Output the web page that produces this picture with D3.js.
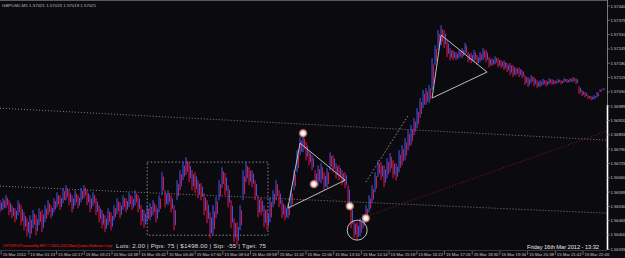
<!DOCTYPE html>
<html>
<head>
<meta charset="utf-8">
<script src="https://cdn.jsdelivr.net/npm/d3@7"></script>
<style>
  html, body { margin: 0; padding: 0; background: #0b0b0f; }
  svg { display: block; font-family: "Liberation Sans", Arial, sans-serif; }
</style>
</head>
<body>
<div id="chart"></div>
<script>
// GBPUSD M1, 15 Mar 2012 -- one high/low pair per ~7 minutes of bars
const symbolInfo = 'GBPUSD,M1  1.57021 1.57023 1.57019 1.57021'

const highs = [
  1.56558, 1.56567, 1.56581, 1.56558, 1.56535, 1.56522, 1.56558, 1.56535, 1.56503, 1.56476,
  1.56490, 1.56513, 1.56490, 1.56522, 1.56513, 1.56535, 1.56558, 1.56535, 1.56567, 1.56594,
  1.56581, 1.56613, 1.56626, 1.56603, 1.56581, 1.56603, 1.56581, 1.56613, 1.56626, 1.56603,
  1.56581, 1.56594, 1.56567, 1.56535, 1.56513, 1.56490, 1.56522, 1.56503, 1.56535, 1.56567,
  1.56549, 1.56581, 1.56567, 1.56594, 1.56576, 1.56603, 1.56581, 1.56535, 1.56513, 1.56535,
  1.56544, 1.56558, 1.56535, 1.56581, 1.56685, 1.56603, 1.56603, 1.56581, 1.56535, 1.56649,
  1.56694, 1.56731, 1.56753, 1.56731, 1.56694, 1.56685, 1.56649, 1.56635, 1.56590, 1.56558,
  1.56503, 1.56535, 1.56572, 1.56649, 1.56708, 1.56681, 1.56626, 1.56558, 1.56476, 1.56458,
  1.56535, 1.56694, 1.56731, 1.56708, 1.56694, 1.56649, 1.56581, 1.56572, 1.56535, 1.56513,
  1.56572, 1.56603, 1.56649, 1.56603, 1.56558, 1.56535, 1.56544, 1.56603, 1.56694, 1.56785,
  1.56844, 1.56853, 1.56822, 1.56785, 1.56762, 1.56694, 1.56717, 1.56726, 1.56685, 1.56703,
  1.56776, 1.56762, 1.56726, 1.56717, 1.56694, 1.56685, 1.56626, 1.56535, 1.56467, 1.56458,
  1.56476, 1.56494, 1.56535, 1.56581, 1.56626, 1.56685, 1.56740, 1.56731, 1.56717, 1.56749,
  1.56772, 1.56740, 1.56726, 1.56785, 1.56808, 1.56840, 1.56876, 1.56899, 1.56931, 1.56976,
  1.57022, 1.57058, 1.57067, 1.57081, 1.57203, 1.57262, 1.57331, 1.57353, 1.57331, 1.57285,
  1.57249, 1.57240, 1.57231, 1.57240, 1.57249, 1.57272, 1.57231, 1.57226, 1.57240, 1.57217,
  1.57231, 1.57249, 1.57240, 1.57208, 1.57203, 1.57212, 1.57203, 1.57194, 1.57194, 1.57181,
  1.57181, 1.57172, 1.57162, 1.57162, 1.57149, 1.57126, 1.57117, 1.57126, 1.57117, 1.57103,
  1.57103, 1.57108, 1.57103, 1.57112, 1.57108, 1.57103, 1.57108, 1.57103, 1.57112, 1.57108,
  1.57112, 1.57117, 1.57112, 1.57076, 1.57058, 1.57049, 1.57035, 1.57031, 1.57035, 1.57049,
  1.57062, 1.57067
]

const lows = [
  1.56503, 1.56513, 1.56522, 1.56490, 1.56476, 1.56458, 1.56490, 1.56444, 1.56422, 1.56394,
  1.56385, 1.56431, 1.56399, 1.56444, 1.56413, 1.56458, 1.56490, 1.56476, 1.56503, 1.56526,
  1.56513, 1.56544, 1.56558, 1.56535, 1.56503, 1.56535, 1.56522, 1.56549, 1.56567, 1.56535,
  1.56503, 1.56531, 1.56490, 1.56458, 1.56431, 1.56413, 1.56444, 1.56422, 1.56467, 1.56494,
  1.56476, 1.56513, 1.56503, 1.56526, 1.56513, 1.56535, 1.56503, 1.56444, 1.56431, 1.56458,
  1.56467, 1.56490, 1.56458, 1.56503, 1.56581, 1.56526, 1.56535, 1.56503, 1.56422, 1.56558,
  1.56603, 1.56649, 1.56672, 1.56640, 1.56603, 1.56590, 1.56567, 1.56558, 1.56490, 1.56453,
  1.56385, 1.56399, 1.56476, 1.56558, 1.56613, 1.56581, 1.56526, 1.56431, 1.56367, 1.56353,
  1.56422, 1.56558, 1.56640, 1.56626, 1.56617, 1.56558, 1.56481, 1.56490, 1.56435, 1.56422,
  1.56458, 1.56526, 1.56558, 1.56526, 1.56476, 1.56467, 1.56476, 1.56526, 1.56603, 1.56685,
  1.56762, 1.56776, 1.56740, 1.56717, 1.56694, 1.56613, 1.56626, 1.56635, 1.56603, 1.56613,
  1.56694, 1.56685, 1.56658, 1.56649, 1.56626, 1.56613, 1.56526, 1.56431, 1.56385, 1.56376,
  1.56394, 1.56431, 1.56458, 1.56503, 1.56544, 1.56594, 1.56663, 1.56649, 1.56617, 1.56658,
  1.56685, 1.56658, 1.56649, 1.56685, 1.56717, 1.56740, 1.56785, 1.56808, 1.56853, 1.56885,
  1.56931, 1.56976, 1.56990, 1.56999, 1.57058, 1.57172, 1.57240, 1.57262, 1.57249, 1.57208,
  1.57194, 1.57194, 1.57194, 1.57203, 1.57203, 1.57217, 1.57185, 1.57181, 1.57185, 1.57172,
  1.57185, 1.57194, 1.57185, 1.57162, 1.57167, 1.57176, 1.57162, 1.57158, 1.57149, 1.57140,
  1.57126, 1.57117, 1.57126, 1.57117, 1.57112, 1.57081, 1.57072, 1.57090, 1.57076, 1.57067,
  1.57072, 1.57081, 1.57076, 1.57085, 1.57081, 1.57085, 1.57090, 1.57085, 1.57094, 1.57090,
  1.57094, 1.57094, 1.57085, 1.57040, 1.57031, 1.57026, 1.57017, 1.57012, 1.57017, 1.57026,
  1.57049, 1.57058
]

const firstMinute = 4
const minutesPerBar = 6.93

const priceTicks = [
  1.56335, 1.56400, 1.56465, 1.56530, 1.56595, 1.56660, 1.56725, 1.56790, 1.56855,
  1.56920, 1.56985, 1.57050, 1.57115, 1.57180, 1.57245, 1.57310, 1.57375, 1.57440
]

const timeLabels = [
  '15 Mar 2012', '15 Mar 01:13', '15 Mar 02:17', '15 Mar 03:21', '15 Mar 04:38', '15 Mar 05:42',
  '15 Mar 06:46', '15 Mar 07:50', '15 Mar 08:54', '15 Mar 09:58', '15 Mar 11:02', '15 Mar 12:06',
  '15 Mar 13:10', '15 Mar 14:14', '15 Mar 15:18', '15 Mar 16:22', '15 Mar 17:26', '15 Mar 18:30',
  '15 Mar 19:34', '15 Mar 20:38', '15 Mar 21:42', '15 Mar 22:46'
]
const timeLabelMinutes = [
  9, 73, 137, 201, 265, 329, 393, 457, 521, 585, 649, 713,
  777, 841, 905, 969, 1033, 1097, 1161, 1225, 1289, 1353
]

// drawn objects: [minute, price]
const triangleA = [[669, 1.56522], [697, 1.56817], [801, 1.56649]]
const triangleB = [[1002, 1.57022], [1023, 1.57308], [1129, 1.57140]]
const channelUpper = [[4, 1.56976], [1406, 1.56831]]
const channelLower = [[4, 1.56622], [1406, 1.56499]]
const trendGrey = [[849, 1.56640], [946, 1.56940]]
const trendRed = [[859, 1.56490], [1406, 1.56872]]
const trendRedFaint = [[708, 1.56603], [812, 1.56540]]
const rangeBox = [[344, 1.56731], [623, 1.56399]]
const pivots = [[704, 1.56862], [729, 1.56631], [812, 1.56531], [849, 1.56476]]
const ringPoint = [829, 1.56422]

const tradeInfo = 'Lots: 2.00 | Pips: 75 | $1498.00 | Stp: -55 | Tget: 75'
const copyright = 'DFT-MT4 Powered by EFL \u00a9 2001-2011 MetaQuotes Software Corp.'
const clockText = 'Friday 16th Mar 2012 - 13:32'

const width = 625
const height = 258
const plotRight = 607
const plotBottom = 250

const x = d3.scaleLinear().domain([4, 1406]).range([0, plotRight])
const y = d3.scaleLinear().domain([1.56335, 1.5744]).range([249.3, 6])

const svg = d3
  .select('#chart')
  .append('svg')
  .attr('width', width)
  .attr('height', height)

svg.append('rect').attr('width', width).attr('height', height).attr('fill', '#0b0b0f')

const defs = svg.append('defs')
const glow = defs.append('radialGradient').attr('id', 'glow')
glow.append('stop').attr('offset', '0%').attr('stop-color', '#ffffff')
glow.append('stop').attr('offset', '35%').attr('stop-color', '#fff4ee')
glow.append('stop').attr('offset', '65%').attr('stop-color', '#e3ab9a')
glow.append('stop').attr('offset', '100%').attr('stop-color', '#a86e60').attr('stop-opacity', 0.35)

const plot = svg.append('g')

const line = d3.line().x(d => x(d[0])).y(d => y(d[1]))

function dotted(points, color, dash, w) {
  plot
    .append('path')
    .attr('d', line(points))
    .attr('fill', 'none')
    .attr('stroke', color)
    .attr('stroke-width', w)
    .attr('stroke-dasharray', dash)
}

dotted(channelUpper, '#8c8c8c', '1,2', 0.9)
dotted(channelLower, '#8c8c8c', '1,2', 0.9)
dotted(trendRedFaint, '#6a1822', '1,2', 0.9)
dotted(trendRed, '#8a1a28', '1,2', 1)

plot
  .append('rect')
  .attr('x', x(rangeBox[0][0]))
  .attr('y', y(rangeBox[0][1]))
  .attr('width', x(rangeBox[1][0]) - x(rangeBox[0][0]))
  .attr('height', y(rangeBox[1][1]) - y(rangeBox[0][1]))
  .attr('fill', 'none')
  .attr('stroke', '#9a9a9a')
  .attr('stroke-width', 0.9)
  .attr('stroke-dasharray', '1.5,2')

// bars: full range in the direction colour, inner part in the other colour
const RED = '#dc1448'
const BLUE = '#3b55e0'
const bars = highs.map((h, i) => ({
  minute: firstMinute + i * minutesPerBar,
  high: h,
  low: lows[i],
  up: i > 0 && h + lows[i] > highs[i - 1] + lows[i - 1],
}))

const barG = plot.append('g')
barG
  .selectAll('line.main')
  .data(bars)
  .join('line')
  .attr('class', 'main')
  .attr('x1', d => x(d.minute))
  .attr('x2', d => x(d.minute))
  .attr('y1', d => y(d.high))
  .attr('y2', d => y(d.low))
  .attr('stroke', d => (d.up ? BLUE : RED))
  .attr('stroke-width', 1.1)

barG
  .selectAll('line.inner')
  .data(bars)
  .join('line')
  .attr('class', 'inner')
  .attr('x1', d => x(d.minute) + 1.5)
  .attr('x2', d => x(d.minute) + 1.5)
  .attr('y1', d => y(d.high) + (y(d.low) - y(d.high)) * 0.2)
  .attr('y2', d => y(d.low) - (y(d.low) - y(d.high)) * 0.2)
  .attr('stroke', d => (d.up ? RED : BLUE))
  .attr('stroke-width', 1)

dotted(trendGrey, '#a0a0a0', '1.5,2', 0.9)

;[triangleA, triangleB].forEach(t => {
  plot
    .append('path')
    .attr('d', line(t) + 'Z')
    .attr('fill', 'none')
    .attr('stroke', '#cfcfcf')
    .attr('stroke-width', 0.9)
})

plot
  .append('circle')
  .attr('cx', x(ringPoint[0]))
  .attr('cy', y(ringPoint[1]))
  .attr('r', 10)
  .attr('fill', 'none')
  .attr('stroke', '#cfcfcf')
  .attr('stroke-width', 0.9)

plot
  .append('g')
  .selectAll('circle')
  .data(pivots)
  .join('circle')
  .attr('cx', d => x(d[0]))
  .attr('cy', d => y(d[1]))
  .attr('r', 4.5)
  .attr('fill', 'url(#glow)')

// frame
svg.append('line').attr('x1', 0).attr('x2', plotRight).attr('y1', 0.5).attr('y2', 0.5)
  .attr('stroke', '#5a5a5a')
svg.append('line').attr('x1', 0).attr('x2', plotRight).attr('y1', plotBottom + 0.5).attr('y2', plotBottom + 0.5)
  .attr('stroke', '#3a3a3a')
svg.append('line').attr('x1', plotRight + 0.5).attr('x2', plotRight + 0.5).attr('y1', 0).attr('y2', plotBottom)
  .attr('stroke', '#7a7a7a')
svg.append('line').attr('x1', plotRight + 0.5).attr('x2', plotRight + 0.5).attr('y1', 105).attr('y2', plotBottom)
  .attr('stroke', '#ffffff').attr('stroke-width', 1.6)

// price axis
const yAxis = svg.append('g')
yAxis
  .selectAll('line')
  .data(priceTicks)
  .join('line')
  .attr('x1', plotRight)
  .attr('x2', plotRight + 3)
  .attr('y1', d => y(d))
  .attr('y2', d => y(d))
  .attr('stroke', '#9a9a9a')
  .attr('stroke-width', 0.6)
yAxis
  .selectAll('text')
  .data(priceTicks)
  .join('text')
  .attr('x', plotRight + 3.5)
  .attr('y', d => y(d) + 1.5)
  .attr('font-size', 4.2)
  .attr('fill', '#c8c8c8')
  .text(d => d.toFixed(5))

// time axis
const xAxis = svg.append('g')
xAxis
  .selectAll('line')
  .data(timeLabelMinutes)
  .join('line')
  .attr('x1', d => x(d) - 1)
  .attr('x2', d => x(d) - 1)
  .attr('y1', plotBottom + 1)
  .attr('y2', plotBottom + 5)
  .attr('stroke', '#9a9a9a')
  .attr('stroke-width', 0.6)
xAxis
  .selectAll('text')
  .data(timeLabelMinutes)
  .join('text')
  .attr('x', d => x(d) + 0.5)
  .attr('y', plotBottom + 5.5)
  .attr('font-size', 4.2)
  .attr('fill', '#c8c8c8')
  .text((d, i) => timeLabels[i])

// chart texts
svg.append('text')
  .attr('x', 2)
  .attr('y', 6.5)
  .attr('font-size', 4.4)
  .attr('fill', '#bdbdbd')
  .text(symbolInfo)

svg.append('text')
  .attr('x', 3)
  .attr('y', 247)
  .attr('font-size', 4.4)
  .attr('fill', '#e01818')
  .attr('textLength', 110)
  .text(copyright)

svg.append('text')
  .attr('x', 116)
  .attr('y', 248)
  .attr('font-size', 6.2)
  .attr('fill', '#dedede')
  .attr('textLength', 150)
  .text(tradeInfo)

svg.append('text')
  .attr('x', 527)
  .attr('y', 248.5)
  .attr('font-size', 5.8)
  .attr('fill', '#e6e6e6')
  .attr('textLength', 72)
  .text(clockText)
</script>
</body>
</html>
